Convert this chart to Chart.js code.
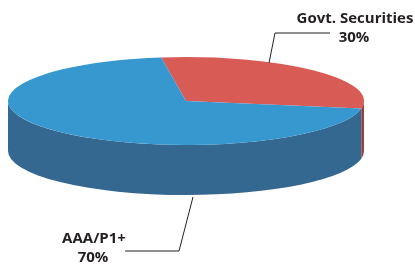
<!DOCTYPE html>
<html>
<head>
<meta charset="utf-8">
<script src="https://cdn.jsdelivr.net/npm/chart.js@4.4.0/dist/chart.umd.min.js"></script>
<style>
  html, body { margin: 0; padding: 0; background: #fff; }
</style>
</head>
<body>
<canvas id="pieChart" width="415" height="265"></canvas>
<script>
var categories = ['Govt. Securities', 'AAA/P1+'];
var shares = [30, 70];
var topColors = ['#d95b56', '#3698cf'];
var sideColors = ['#9c3f3c', '#356891'];

var TILT = 0.247; // how flat the top face is (ry / rx)

// where the callout texts and their leader lines sit
var calloutSpots = [
  { x: 355, y: 19, line: [[330, 33], [275, 33], [269, 63]] },
  { x: 94, y: 239, line: [[125, 251], [179, 251], [193, 197]] }
];

function pieGeometry(chart) {
  var area = chart.chartArea;
  var arc = chart.getDatasetMeta(0).data[0];
  var rx = (area.right - area.left) / 2;
  var ry = rx * TILT;
  return {
    arc: arc,
    cx: arc.x,
    cy: area.top + ry,
    sx: rx / arc.outerRadius,
    sy: ry / arc.outerRadius,
    depth: (area.bottom - area.top) - 2 * ry
  };
}

// squashes the pie into an ellipse and paints the front wall under it
var tiltPlugin = {
  id: 'tilt',
  beforeDatasetsDraw: function(chart) {
    var ctx = chart.ctx;
    var g = pieGeometry(chart);
    ctx.save();
    ctx.translate(g.cx, g.cy);
    ctx.scale(g.sx, g.sy);
    ctx.translate(-g.arc.x, -g.arc.y);

    var off = g.depth / g.sy;
    chart.getDatasetMeta(0).data.forEach(function(el, i) {
      var s = el.startAngle, e = el.endAngle;
      for (var k = -1; k <= 1; k++) {
        var lo = Math.max(s, k * 2 * Math.PI);
        var hi = Math.min(e, k * 2 * Math.PI + Math.PI);
        if (hi <= lo) continue;
        ctx.beginPath();
        ctx.arc(el.x, el.y, el.outerRadius, lo, hi);
        ctx.arc(el.x, el.y + off, el.outerRadius, hi, lo, true);
        ctx.closePath();
        ctx.fillStyle = sideColors[i];
        ctx.fill();
      }
    });
  },
  afterDatasetsDraw: function(chart) {
    chart.ctx.restore();
  }
};

var calloutPlugin = {
  id: 'callouts',
  afterDraw: function(chart) {
    var ctx = chart.ctx;
    ctx.save();
    ctx.strokeStyle = '#231f20';
    ctx.lineWidth = 1;
    ctx.fillStyle = '#231f20';
    ctx.font = 'bold 15px "Open Sans"';
    ctx.textAlign = 'center';
    ctx.textBaseline = 'middle';
    categories.forEach(function(name, i) {
      var spot = calloutSpots[i];
      ctx.beginPath();
      spot.line.forEach(function(p, j) {
        if (j === 0) ctx.moveTo(p[0], p[1]); else ctx.lineTo(p[0], p[1]);
      });
      ctx.stroke();
      ctx.fillText(name, spot.x, spot.y);
      ctx.fillText(shares[i] + '%', spot.x - 1, spot.y + 19);
    });
    ctx.restore();
  }
};

var ctx = document.getElementById('pieChart').getContext('2d');
var pieChart = new Chart(ctx, {
  type: 'pie',
  data: {
    labels: categories,
    datasets: [{
      data: shares,
      backgroundColor: topColors,
      borderWidth: 0
    }]
  },
  options: {
    responsive: false,
    animation: false,
    events: [],
    rotation: -8,
    layout: { padding: { left: 8, right: 51, top: 57, bottom: 70 } },
    plugins: {
      legend: { display: false },
      tooltip: { enabled: false }
    }
  },
  plugins: [tiltPlugin, calloutPlugin]
});
</script>
</body>
</html>
